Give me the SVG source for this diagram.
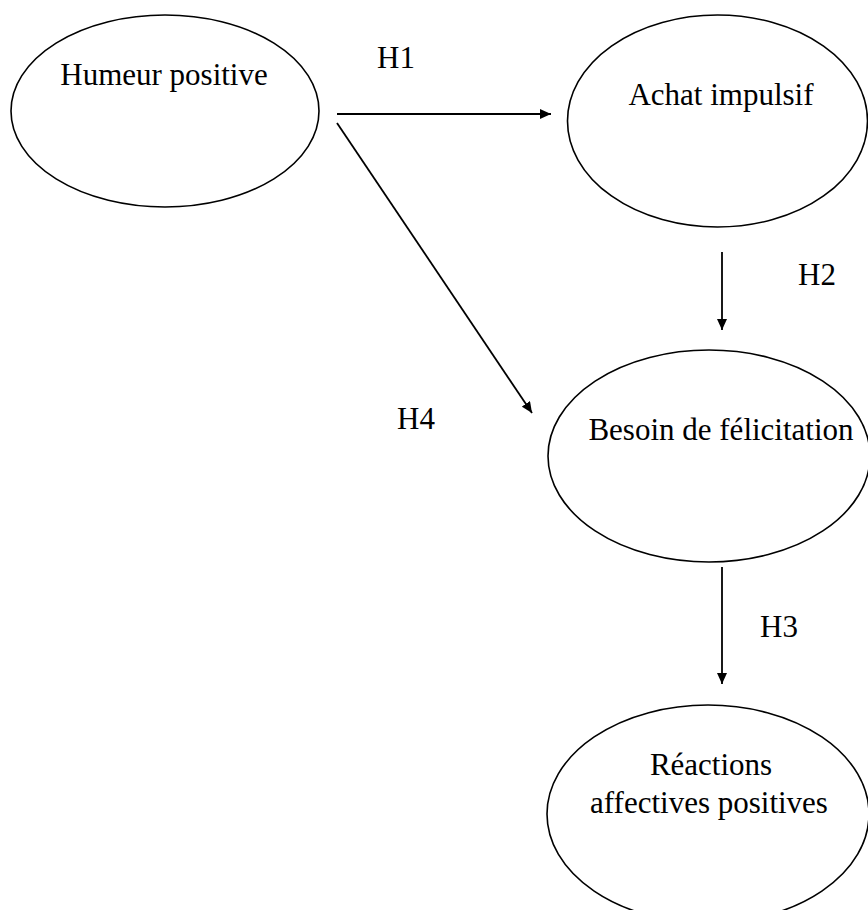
<svg xmlns="http://www.w3.org/2000/svg" width="868" height="910" viewBox="0 0 868 910">
  <style>
    .node { fill: #ffffff; stroke: #000000; stroke-width: 1.6; }
    .label { font-family: "Liberation Serif", "Times New Roman", serif; font-size: 31px; fill: #000000; }
    .hyp { font-family: "Liberation Serif", "Times New Roman", serif; font-size: 31px; fill: #000000; }
    .edge { stroke: #000000; stroke-width: 1.8; fill: none; marker-end: url(#arrow); }
  </style>
  <defs>
    <marker id="arrow" markerUnits="userSpaceOnUse" markerWidth="12" markerHeight="10" refX="11" refY="5" orient="auto">
      <path d="M0,0 L11,5 L0,10 Z" fill="#000000"/>
    </marker>
  </defs>
  <rect width="868" height="910" fill="#ffffff"/>

  <g id="humeur-positive">
    <ellipse class="node" cx="165" cy="111" rx="154" ry="96"/>
    <text class="label" x="164" y="85" text-anchor="middle">Humeur positive</text>
  </g>

  <g id="achat-impulsif">
    <ellipse class="node" cx="717.5" cy="121" rx="150" ry="106"/>
    <text class="label" x="721" y="105" text-anchor="middle">Achat impulsif</text>
  </g>

  <g id="besoin-felicitation">
    <ellipse class="node" cx="709" cy="456" rx="161" ry="106"/>
    <text class="label" x="721" y="440" text-anchor="middle">Besoin de félicitation</text>
  </g>

  <!-- lower part of this ellipse runs past the bottom edge -->
  <g id="reactions-affectives">
    <ellipse class="node" cx="708" cy="814" rx="161" ry="109"/>
    <text class="label" x="711" y="775" text-anchor="middle">Réactions</text>
    <text class="label" x="709" y="813" text-anchor="middle">affectives positives</text>
  </g>

  <g id="connectors">
    <line class="edge" x1="337" y1="114" x2="551" y2="114"/>
    <line class="edge" x1="337" y1="123" x2="532" y2="413"/>
    <line class="edge" x1="722" y1="252" x2="722" y2="330"/>
    <line class="edge" x1="722" y1="567" x2="722" y2="684"/>
  </g>

  <g id="hypotheses">
    <text class="hyp" x="377" y="68">H1</text>
    <text class="hyp" x="798" y="285">H2</text>
    <text class="hyp" x="760" y="637">H3</text>
    <text class="hyp" x="397" y="429">H4</text>
  </g>
</svg>
